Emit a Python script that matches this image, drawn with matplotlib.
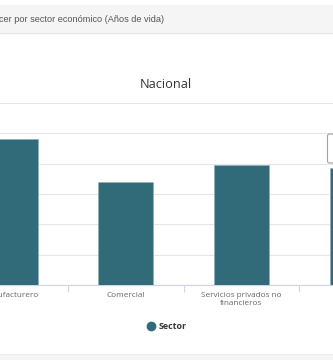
"""Bar chart: esperanza de vida de los negocios por sector económico (Nacional)."""

import matplotlib.pyplot as plt
from matplotlib.patches import Rectangle, FancyBboxPatch
from matplotlib.lines import Line2D

sectores = ["Manufacturero", "Comercial", "Servicios privados no\nfinancieros", "Total"]
anos_vida = [9.6, 6.8, 7.9, 7.7]
y_ticks = [0, 2, 4, 6, 8, 10, 12]

W, H = 333, 360
BAR = "#316b79"
GRID = "#e6e6e6"
AXIS = "#ccd6eb"

fig = plt.figure(figsize=(W / 100, H / 100), dpi=100)
fig.patch.set_facecolor("white")


def px(x, y):
    # pixel coords (top-left origin) -> figure fraction
    return x / W, 1 - y / H


# header band
fig.patches.append(Rectangle(px(0, 33), 1, 28 / H, transform=fig.transFigure,
                             facecolor="#f5f5f5", edgecolor="none", zorder=0))
fig.lines.append(Line2D([0, 1], [1 - 33 / H] * 2, transform=fig.transFigure,
                        color="#e3e3e3", lw=0.8))
fig.text(*px(-1, 19), "cer por sector económico (Años de vida)", ha="left", va="center",
         fontsize=6.6, color="#555555", family="Liberation Sans")

# bottom band
fig.patches.append(Rectangle((0, 0), 1, 6 / H, transform=fig.transFigure,
                             facecolor="#f5f5f5", edgecolor="none", zorder=0))
fig.lines.append(Line2D([0, 1], [6 / H] * 2, transform=fig.transFigure,
                        color="#ebebeb", lw=0.8))

fig.text(*px(166, 84), "Nacional", ha="center", va="center",
         fontsize=9.2, color="#333333", family="Open Sans")

# plot area: y 0..12 maps to pixel rows 285..103; category i at pixel 10 + 115.7*i
step = 115.7
left, bottom = px(0, 285)
ax = fig.add_axes([left, bottom, 1, 182 / H])

ax.bar(range(len(sectores)), anos_vida, width=0.476, color=BAR,
       edgecolor="#8fb0b8", linewidth=0.4, zorder=3)

ax.set_yticks(y_ticks)
ax.yaxis.grid(True, color=GRID, lw=0.8)
ax.tick_params(axis="y", length=0, labelleft=False)
for s in ("top", "left", "right"):
    ax.spines[s].set_visible(False)
ax.spines["bottom"].set_color(AXIS)
ax.spines["bottom"].set_linewidth(0.8)
ax.set_axisbelow(True)

ax.set_xticks(range(len(sectores)))
ax.set_xticklabels(sectores, fontsize=5.9, color="#666666", family="Open Sans",
                   linespacing=1.3, va="top")
ax.tick_params(axis="x", which="major", length=0, pad=5)
ax.set_xticks([0.5, 1.5, 2.5], minor=True)
ax.tick_params(axis="x", which="minor", length=5, color=AXIS, width=0.8)

# limits last, set_xticks may widen them
ax.set_xlim((0 - 10) / step, (W - 10) / step)
ax.set_ylim(0, 12)

# partial tooltip at the right edge
fig.patches.append(FancyBboxPatch(px(327.5, 163), 20 / W, 29 / H,
                                  boxstyle="round,pad=0,rounding_size=0.006",
                                  transform=fig.transFigure, facecolor="white",
                                  edgecolor="#a0a0a0", lw=0.8, zorder=5))

# legend
fig.lines.append(Line2D([151 / W], [1 - 326 / H], transform=fig.transFigure,
                        marker="o", ms=6, color=BAR, lw=0))
fig.text(*px(159, 326.5), "Sector", ha="left", va="center", fontsize=6.4,
         fontweight="bold", color="#333333", family="Open Sans")

fig.savefig("out.png", dpi=100)
